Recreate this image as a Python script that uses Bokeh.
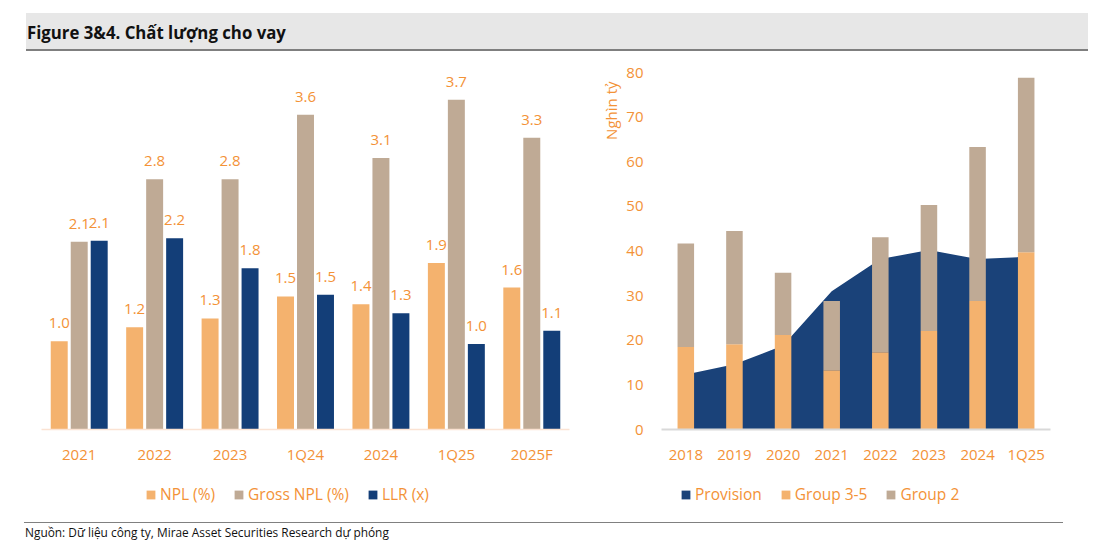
import html
from bokeh.plotting import figure
from bokeh.models import (ColumnDataSource, Legend, LegendItem, Range1d,
                          FactorRange, Div, FixedTicker, Title)
from bokeh.layouts import column, row
from bokeh.transform import dodge
from bokeh.core.properties import value
from bokeh.embed import file_html
from bokeh.resources import INLINE

# ---------------- data ----------------
title_text = "Figure 3&4. Chất lượng cho vay"
source_text = "Nguồn: Dữ liệu công ty, Mirae Asset Securities Research dự phóng"

left_cats = ["2021", "2022", "2023", "1Q24", "2024", "1Q25", "2025F"]
npl = [1.00, 1.16, 1.26, 1.51, 1.42, 1.89, 1.61]
gross_npl = [2.13, 2.84, 2.84, 3.57, 3.08, 3.74, 3.31]
llr = [2.14, 2.17, 1.83, 1.53, 1.32, 0.97, 1.12]
left_series = ["NPL (%)", "Gross NPL (%)", "LLR (x)"]

right_cats = ["2018", "2019", "2020", "2021", "2022", "2023", "2024", "1Q25"]
provision = [12.3, 14.6, 18.8, 31.0, 38.2, 40.2, 38.2, 38.7]
group35 = [18.5, 19.1, 21.2, 13.3, 17.3, 22.1, 28.8, 39.7]
group2 = [23.2, 25.4, 13.9, 15.5, 25.8, 28.2, 34.5, 39.1]
right_series = ["Provision", "Group 3-5", "Group 2"]
right_ticks = [0, 10, 20, 30, 40, 50, 60, 70, 80]
y_title = "Nghìn tỷ"

# ---------------- style ----------------
ORANGE_TXT = "#F39237"
C_NPL = "#F4B26E"
C_GROSS = "#BFAA95"
C_LLR = "#133E78"
C_AREA = "#1A4279"
FONT = "Open Sans"
FS = "15px"


def style_xaxis(a, line_color, line_width):
    a.axis_line_color = line_color
    a.axis_line_width = line_width
    a.major_tick_line_color = None
    a.minor_tick_line_color = None
    a.major_tick_out = 0
    a.minor_tick_out = 0
    a.major_label_standoff = 14
    a.major_label_text_font = FONT
    a.major_label_text_font_size = FS
    a.major_label_text_color = ORANGE_TXT


def legend_figure(width, names, colors, x_loc):
    lf = figure(width=width, height=57, output_backend="svg", toolbar_location=None,
                x_range=Range1d(0, 1), y_range=Range1d(0, 1), min_border=0,
                x_axis_location=None, y_axis_location=None)
    lf.outline_line_color = None
    lf.xgrid.grid_line_color = None
    lf.ygrid.grid_line_color = None
    items = []
    for n, c in zip(names, colors):
        # legend swatch only: a single bar placed outside the visible range
        r = lf.vbar(x=[5], top=[5], width=0.1, fill_color=c, line_color=None)
        items.append(LegendItem(label=n, renderers=[r]))
    lg = Legend(items=items, orientation="horizontal", location=(x_loc, 22),
                glyph_width=11, glyph_height=11, label_standoff=4, spacing=18,
                padding=0, margin=0, border_line_color=None,
                background_fill_alpha=0, label_text_font=FONT,
                label_text_font_size="15.5px", label_text_color=ORANGE_TXT)
    lf.add_layout(lg, "center")
    return lf


# ---------------- left chart ----------------
lsrc = ColumnDataSource(dict(
    cat=left_cats, npl=npl, gross=gross_npl, llr=llr,
    npl_l=[f"{v:.1f}" for v in npl],
    gross_l=[f"{v:.1f}" for v in gross_npl],
    llr_l=[f"{v:.1f}" for v in llr],
))

p1 = figure(x_range=FactorRange(*left_cats), y_range=Range1d(0, 4.05),
            width=580, height=419, output_backend="svg", toolbar_location=None,
            min_border_left=41, min_border_right=11, min_border_top=21,
            min_border_bottom=41, y_axis_location=None)
p1.outline_line_color = None
p1.xgrid.grid_line_color = None
p1.ygrid.grid_line_color = None

offs = [-0.265, 0.0, 0.265]
cols = [C_NPL, C_GROSS, C_LLR]
fields = ["npl", "gross", "llr"]
for off, c, f in zip(offs, cols, fields):
    p1.vbar(x=dodge("cat", off, range=p1.x_range), top=f, width=0.225,
            source=lsrc, fill_color=c, line_color=None)
    p1.text(x=dodge("cat", off, range=p1.x_range), y=f, text=f + "_l",
            source=lsrc, text_align="center", text_baseline="bottom",
            y_offset=-13, text_font=value(FONT), text_font_size=FS,
            text_color=ORANGE_TXT)
style_xaxis(p1.xaxis[0], "#FBE3D3", 1.5)

# ---------------- right chart ----------------
rsrc = ColumnDataSource(dict(cat=right_cats, prov=provision, g35=group35, g2=group2))

p2 = figure(x_range=FactorRange(*right_cats), y_range=Range1d(0, 80),
            width=529, height=419, output_backend="svg", toolbar_location=None,
            min_border_left=81, min_border_right=59, min_border_top=21,
            min_border_bottom=41)
p2.outline_line_color = None
p2.xgrid.grid_line_color = None
p2.ygrid.grid_line_color = None

p2.varea(x="cat", y1=0, y2="prov", source=rsrc, fill_color=C_AREA)
p2.vbar_stack(["g35", "g2"], x="cat", width=0.34, source=rsrc,
              fill_color=[C_NPL, C_GROSS], line_color=None)
style_xaxis(p2.xaxis[0], "#D9D9D9", 2)

ya = p2.yaxis[0]
ya.ticker = FixedTicker(ticks=right_ticks)
ya.axis_line_color = None
ya.major_tick_line_color = None
ya.minor_tick_line_color = None
ya.major_tick_out = 0
ya.minor_tick_out = 0
ya.major_label_standoff = 18
ya.major_label_text_font = FONT
ya.major_label_text_font_size = FS
ya.major_label_text_color = ORANGE_TXT

p2.add_layout(Title(text=y_title, align="right", offset=9, standoff=5,
                    text_font=FONT, text_font_size=FS, text_font_style="normal",
                    text_color=ORANGE_TXT), "left")

# ---------------- legends ----------------
lf1 = legend_figure(580, left_series, [C_NPL, C_GROSS, C_LLR], 145)
lf2 = legend_figure(529, right_series, [C_AREA, C_NPL, C_GROSS], 100)

# ---------------- title & footer ----------------
title_div = Div(width=1109, height=51, margin=0, text=(
    '<div style="position:relative;left:26px;top:13px;width:1061px;height:36px;'
    'box-sizing:content-box;background:#E7E7E7;border-bottom:2px solid #7F7F7F;'
    "font-family:'Open Sans';font-weight:700;font-size:18px;"
    'line-height:38px;color:#111111;white-space:nowrap;padding-left:1px;">'
    '<span style="display:inline-block;transform:scaleX(0.932);'
    'transform-origin:0 50%;">' + html.escape(title_text) + '</span></div>'))

footer_div = Div(width=1109, height=16, margin=0, text=(
    '<div style="position:relative;left:24px;top:-5px;width:1039px;'
    'border-top:1.5px solid #808080;padding-top:2px;'
    "font-family:'Open Sans';font-size:13.5px;"
    'line-height:15px;color:#111111;white-space:nowrap;padding-left:1px;">'
    '<span style="display:inline-block;transform:scaleX(0.88);'
    'transform-origin:0 50%;">' + html.escape(source_text) + '</span></div>'))

layout = column(title_div, row(p1, p2), row(lf1, lf2), footer_div)
open("out.html", "w").write(file_html(layout, INLINE))
